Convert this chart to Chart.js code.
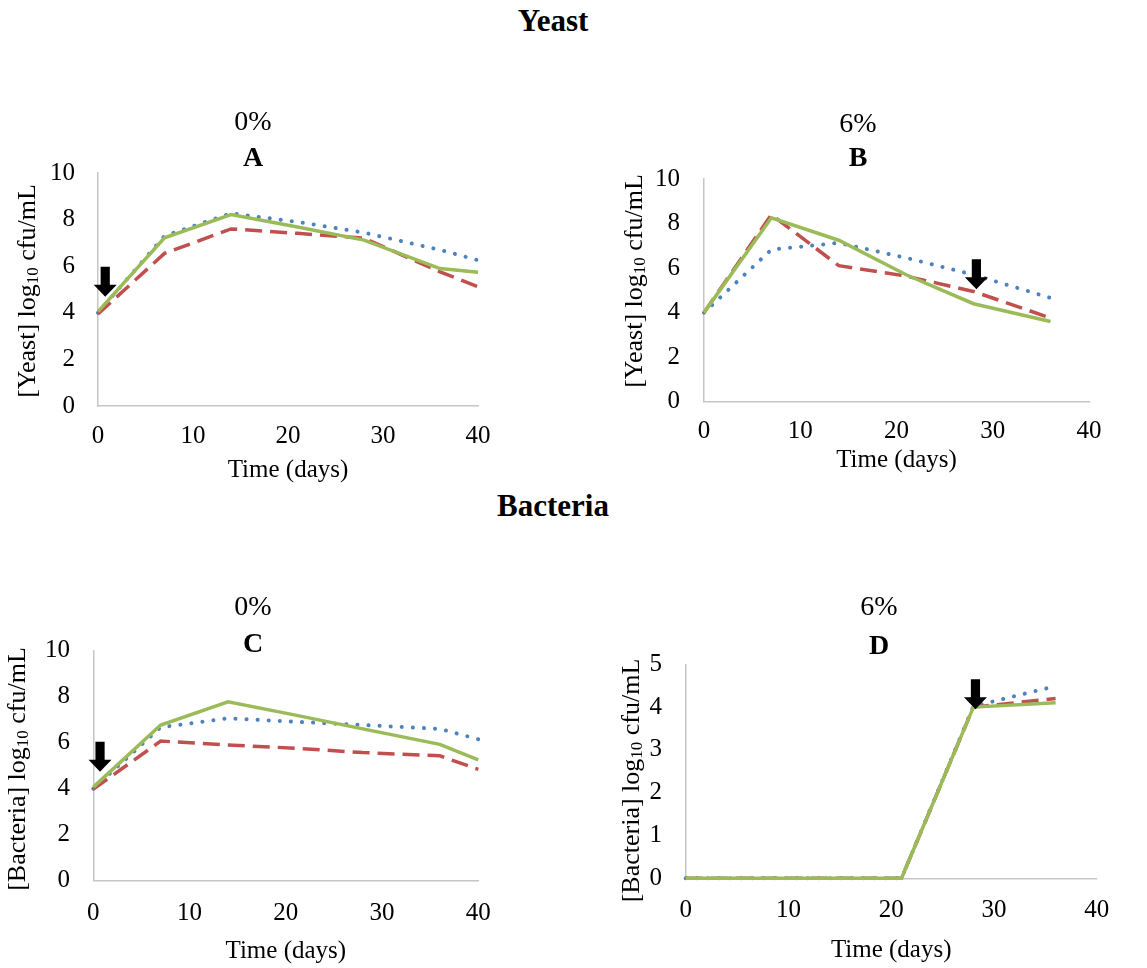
<!DOCTYPE html>
<html lang="en">
<head>
<meta charset="utf-8">
<title>Yeast and bacteria counts</title>
<script src="https://cdn.jsdelivr.net/npm/chart.js@4.4.1/dist/chart.umd.min.js"></script>
<style>
  html, body { margin: 0; padding: 0; background: #fff; }
  body {
    position: relative;
    width: 1147px;
    height: 968px;
    overflow: hidden;
    font-family: "Liberation Serif", "Times New Roman", serif;
    color: #000;
  }
  .heading {
    position: absolute;
    left: 0;
    width: 1106px;
    text-align: center;
    font-size: 31px;
    line-height: 31px;
    font-weight: bold;
  }
  canvas { position: absolute; }
</style>
</head>
<body>
<div class="heading" style="top: 5px">Yeast</div>
<div class="heading" style="top: 490px">Bacteria</div>
<canvas id="chartA" width="506" height="400" style="left: 0; top: 95px"></canvas>
<canvas id="chartB" width="506" height="400" style="left: 605px; top: 95px"></canvas>
<canvas id="chartC" width="506" height="388" style="left: 0; top: 580px"></canvas>
<canvas id="chartD" width="528" height="388" style="left: 615px; top: 580px"></canvas>
<script>
// Sampling days for each panel
const daysYeast0 = [0, 7, 14, 21, 28, 36, 40];
const daysYeast6 = [0, 7, 14, 21, 28, 36];
const daysBact0 = [0, 7, 14, 21, 28, 36, 40];
const daysBact6 = [0, 7, 14, 21, 28, 36];

// Panel A - yeast, 0%
const yeast0Blue = [4.0, 7.3, 8.27, 7.9, 7.44, 6.7, 6.26];
const yeast0Red = [3.95, 6.55, 7.6, 7.41, 7.2, 5.76, 5.12];
const yeast0Green = [4.05, 7.22, 8.22, 7.68, 7.12, 5.9, 5.74];

// Panel B - yeast, 6%
const yeast6Blue = [4.0, 6.83, 7.13, 6.46, 5.7, 4.66];
const yeast6Red = [4.0, 8.4, 6.11, 5.64, 4.95, 3.76];
const yeast6Green = [4.0, 8.26, 7.25, 5.7, 4.4, 3.6];

// Panel C - bacteria, 0%
const bact0Blue = [4.0, 6.67, 7.06, 6.91, 6.77, 6.6, 6.15];
const bact0Red = [3.98, 6.07, 5.9, 5.76, 5.57, 5.43, 4.84];
const bact0Green = [4.07, 6.77, 7.78, 7.2, 6.6, 5.93, 5.25];

// Panel D - bacteria, 6%
const bact6Blue = [0, 0, 0, 0, 4.02, 4.49];
const bact6Red = [0, 0, 0, 0, 4.0, 4.2];
const bact6Green = [0, 0, 0, 0, 4.0, 4.1];

// Arrow tips [day, log10 cfu/mL]
const arrowA = [0.76, 4.69];
const arrowB = [28.3, 5.05];
const arrowC = [0.7, 4.74];
const arrowD = [28.2, 3.95];

// Texts
const panelTitles = ["0%", "6%", "0%", "6%"];
const panelLetters = ["A", "B", "C", "D"];
const xTitle = "Time (days)";
const yTitleYeast = ["[Yeast] log", "10", " cfu/mL"];
const yTitleBact = ["[Bacteria] log", "10", " cfu/mL"];

const FONT = "'Liberation Serif', 'Times New Roman', serif";
const BLUE = "#4F81BD";
const RED = "#C0504D";
const GREEN = "#9BBB59";
const AXIS = "#c6c6c6";

function toPoints(days, values) {
  return days.map((d, i) => ({ x: d, y: values[i] }));
}

// Draws the black arrow and the y title (with subscript 10)
const panelDecor = {
  id: "panelDecor",
  afterDraw(chart, args, opts) {
    const ctx = chart.ctx;
    const xs = chart.scales.x;
    const ys = chart.scales.y;

    if (opts.arrow) {
      const tx = xs.getPixelForValue(opts.arrow[0]);
      const ty = ys.getPixelForValue(opts.arrow[1]);
      ctx.save();
      ctx.fillStyle = "#000";
      ctx.beginPath();
      ctx.moveTo(tx, ty);
      ctx.lineTo(tx - 11.5, ty - 12);
      ctx.lineTo(tx - 4.6, ty - 12);
      ctx.lineTo(tx - 4.6, ty - 30);
      ctx.lineTo(tx + 4.6, ty - 30);
      ctx.lineTo(tx + 4.6, ty - 12);
      ctx.lineTo(tx + 11.5, ty - 12);
      ctx.closePath();
      ctx.fill();
      ctx.restore();
    }

    const parts = opts.yTitle;
    const big = "26px " + FONT;
    const small = "17px " + FONT;
    ctx.save();
    ctx.translate(opts.yTitleX, opts.yTitleY);
    ctx.rotate(-Math.PI / 2);
    ctx.fillStyle = "#000";
    ctx.textBaseline = "middle";
    ctx.textAlign = "left";
    ctx.font = big;
    const w0 = ctx.measureText(parts[0]).width;
    const w2 = ctx.measureText(parts[2]).width;
    ctx.font = small;
    const w1 = ctx.measureText(parts[1]).width;
    let x = -(w0 + w1 + w2) / 2;
    ctx.font = big;
    ctx.fillText(parts[0], x, 0);
    x += w0;
    ctx.font = small;
    ctx.fillText(parts[1], x, 6);
    x += w1;
    ctx.font = big;
    ctx.fillText(parts[2], x, 0);
    ctx.restore();
  },
};

function makePanel(canvasId, p) {
  const datasets = [
    { label: "Series 3", data: toPoints(p.days, p.green), borderColor: GREEN, borderWidth: 3.5 },
    { label: "Series 2", data: toPoints(p.days, p.red), borderColor: RED, borderWidth: 3.5, borderDash: [17, 8] },
    { label: "Series 1", data: toPoints(p.days, p.blue), borderColor: BLUE, borderWidth: 4, borderDash: [0.1, 11], borderCapStyle: "round" },
  ];
  datasets.forEach((ds) => {
    ds.pointRadius = 0;
    ds.tension = 0;
    ds.fill = false;
    ds.clip = false;
  });

  return new Chart(document.getElementById(canvasId), {
    type: "line",
    data: { datasets: datasets },
    plugins: [panelDecor],
    options: {
      responsive: false,
      animation: false,
      events: [],
      layout: { padding: 0 },
      plugins: {
        legend: { display: false },
        tooltip: { enabled: false },
        title: {
          display: true,
          text: p.title,
          color: "#000",
          font: { family: FONT, size: 28, weight: "normal", lineHeight: 1 },
          padding: p.titlePad,
        },
        subtitle: {
          display: true,
          text: p.letter,
          color: "#000",
          font: { family: FONT, size: 28, weight: "bold", lineHeight: 1 },
          padding: p.letterPad,
        },
        panelDecor: {
          arrow: p.arrow,
          yTitle: p.yTitle,
          yTitleX: p.yTitleX,
          yTitleY: p.yTitleY,
        },
      },
      scales: {
        x: {
          type: "linear",
          min: 0,
          max: 40,
          ticks: {
            stepSize: 10,
            color: "#000",
            maxRotation: 0,
            padding: p.xTickPad,
            font: { family: FONT, size: 25 },
          },
          grid: { display: false, drawTicks: false },
          border: { display: true, color: AXIS, width: 1.5 },
          title: {
            display: true,
            text: xTitle,
            color: "#000",
            font: { family: FONT, size: 25, lineHeight: 1.2 },
            padding: { top: 0, bottom: p.xTitlePad },
          },
          afterFit(scale) {
            scale.height = p.xHeight;
            scale.paddingRight = p.rightGap;
            scale.paddingLeft = 0;
          },
        },
        y: {
          type: "linear",
          min: 0,
          max: p.yMax,
          ticks: {
            stepSize: p.yStep,
            color: "#000",
            padding: p.yTickPad,
            font: { family: FONT, size: 25 },
          },
          grid: { display: false, drawTicks: false },
          border: { display: true, color: AXIS, width: 1.5 },
          afterFit(scale) {
            scale.width = p.yWidth;
          },
        },
      },
    },
  });
}

makePanel("chartA", {
  days: daysYeast0, blue: yeast0Blue, red: yeast0Red, green: yeast0Green,
  title: panelTitles[0], letter: panelLetters[0], arrow: arrowA, yTitle: yTitleYeast,
  yMax: 10, yStep: 2,
  titlePad: { top: 14, bottom: 0 }, letterPad: { top: 8, bottom: 0 },
  yWidth: 98, yTickPad: 23, yTitleX: 28, yTitleY: 196,
  xHeight: 89, xTickPad: 15.5, xTitlePad: 10, rightGap: 28,
});

makePanel("chartB", {
  days: daysYeast6, blue: yeast6Blue, red: yeast6Red, green: yeast6Green,
  title: panelTitles[1], letter: panelLetters[1], arrow: arrowB, yTitle: yTitleYeast,
  yMax: 10, yStep: 2,
  titlePad: { top: 16, bottom: 0 }, letterPad: { top: 5.5, bottom: 6.5 },
  yWidth: 99, yTickPad: 24, yTitleX: 30, yTitleY: 186,
  xHeight: 93.3, xTickPad: 15, xTitlePad: 20, rightGap: 22,
});

makePanel("chartC", {
  days: daysBact0, blue: bact0Blue, red: bact0Red, green: bact0Green,
  title: panelTitles[2], letter: panelLetters[2], arrow: arrowC, yTitle: yTitleBact,
  yMax: 10, yStep: 2,
  titlePad: { top: 14, bottom: 0 }, letterPad: { top: 9, bottom: -8.3 },
  yWidth: 93.3, yTickPad: 23.3, yTitleX: 18, yTitleY: 189,
  xHeight: 87.3, xTickPad: 18, xTitlePad: 1.3, rightGap: 27.7,
});

makePanel("chartD", {
  days: daysBact6, blue: bact6Blue, red: bact6Red, green: bact6Green,
  title: panelTitles[3], letter: panelLetters[3], arrow: arrowD, yTitle: yTitleBact,
  yMax: 5, yStep: 1,
  titlePad: { top: 14, bottom: 0 }, letterPad: { top: 11, bottom: 3.3 },
  yWidth: 70.7, yTickPad: 23.7, yTitleX: 16.7, yTitleY: 200.5,
  xHeight: 89.7, xTickPad: 17.4, xTitlePad: 3, rightGap: 46.3,
});
</script>
</body>
</html>
